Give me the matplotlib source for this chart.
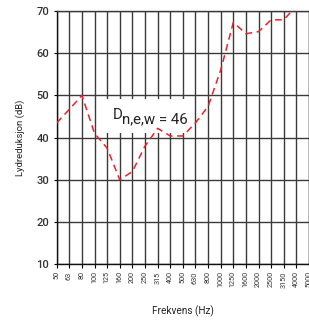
import matplotlib
matplotlib.use('Agg')
import matplotlib.pyplot as plt
from matplotlib.patches import Rectangle

# Third-octave bands and sound reduction values (dB)
freq_labels = ['50', '63', '80', '100', '125', '160', '200', '250', '315', '400',
               '500', '630', '800', '1000', '1250', '1600', '2000', '2500', '3150',
               '4000', '5000']
reduction = [43.5, 46.7, 50.0, 41.0, 37.5, 30.0, 32.0, 38.0, 42.2, 40.4,
             40.4, 43.5, 47.4, 56.0, 67.3, 64.6, 65.1, 67.9, 67.9, 71.2, 73.0]
y_ticks = [10, 20, 30, 40, 50, 60, 70]
rating_label = 'n,e,w = 46'

plt.rcParams['font.family'] = ['Roboto', 'DejaVu Sans']

fig = plt.figure(figsize=(3.09, 3.22), dpi=100)
ax = fig.add_axes([0.1835, 0.179, 0.8165, 0.787])

x = list(range(len(freq_labels)))

# Grid
grid_color = '#3a3a3a'
for xi in x:
    ax.axvline(xi, color=grid_color, lw=1.0, zorder=1)
for yv in y_ticks:
    ax.axhline(yv, color=grid_color, lw=1.0, zorder=1)

# Rating label box
ax.add_patch(Rectangle((0.184, 0.518), 0.356, 0.135, transform=ax.transAxes,
                       facecolor='white', edgecolor='none', zorder=2))
ax.text(0.223, 0.574, 'D', transform=ax.transAxes, fontsize=10.8,
        color='#222222', va='baseline', ha='left', zorder=3)
ax.text(0.259, 0.556, rating_label, transform=ax.transAxes, fontsize=10.8,
        color='#222222', va='baseline', ha='left', zorder=3)

# Measured curve
ax.plot(x, reduction, color='#e8222a', lw=1.1, linestyle=(0, (4.5, 3)),
        zorder=4, clip_on=True)

ax.set_xlim(0, len(freq_labels) - 1)
ax.set_ylim(10, 70)
ax.set_xticks(x)
ax.set_xticklabels(freq_labels, rotation=90, fontsize=5.2, color='#333333')
ax.set_yticks(y_ticks)
ax.set_yticklabels([str(v) for v in y_ticks], fontsize=8, color='#333333',
                   fontweight='medium')
ax.tick_params(axis='x', length=3, width=0.8, pad=2)
ax.tick_params(axis='y', length=2.5, width=0.8, pad=3)

for side in ['left', 'bottom']:
    ax.spines[side].set_color('#111111')
    ax.spines[side].set_linewidth(1.0)
for side in ['top', 'right']:
    ax.spines[side].set_color(grid_color)
    ax.spines[side].set_linewidth(1.0)

ax.set_ylabel('Lydreduksjon (dB)', fontsize=6.8, color='#222222', labelpad=8)
ax.set_xlabel('Frekvens (Hz)', fontsize=7.2, color='#222222', labelpad=13)

fig.savefig('out.png', dpi=100)
